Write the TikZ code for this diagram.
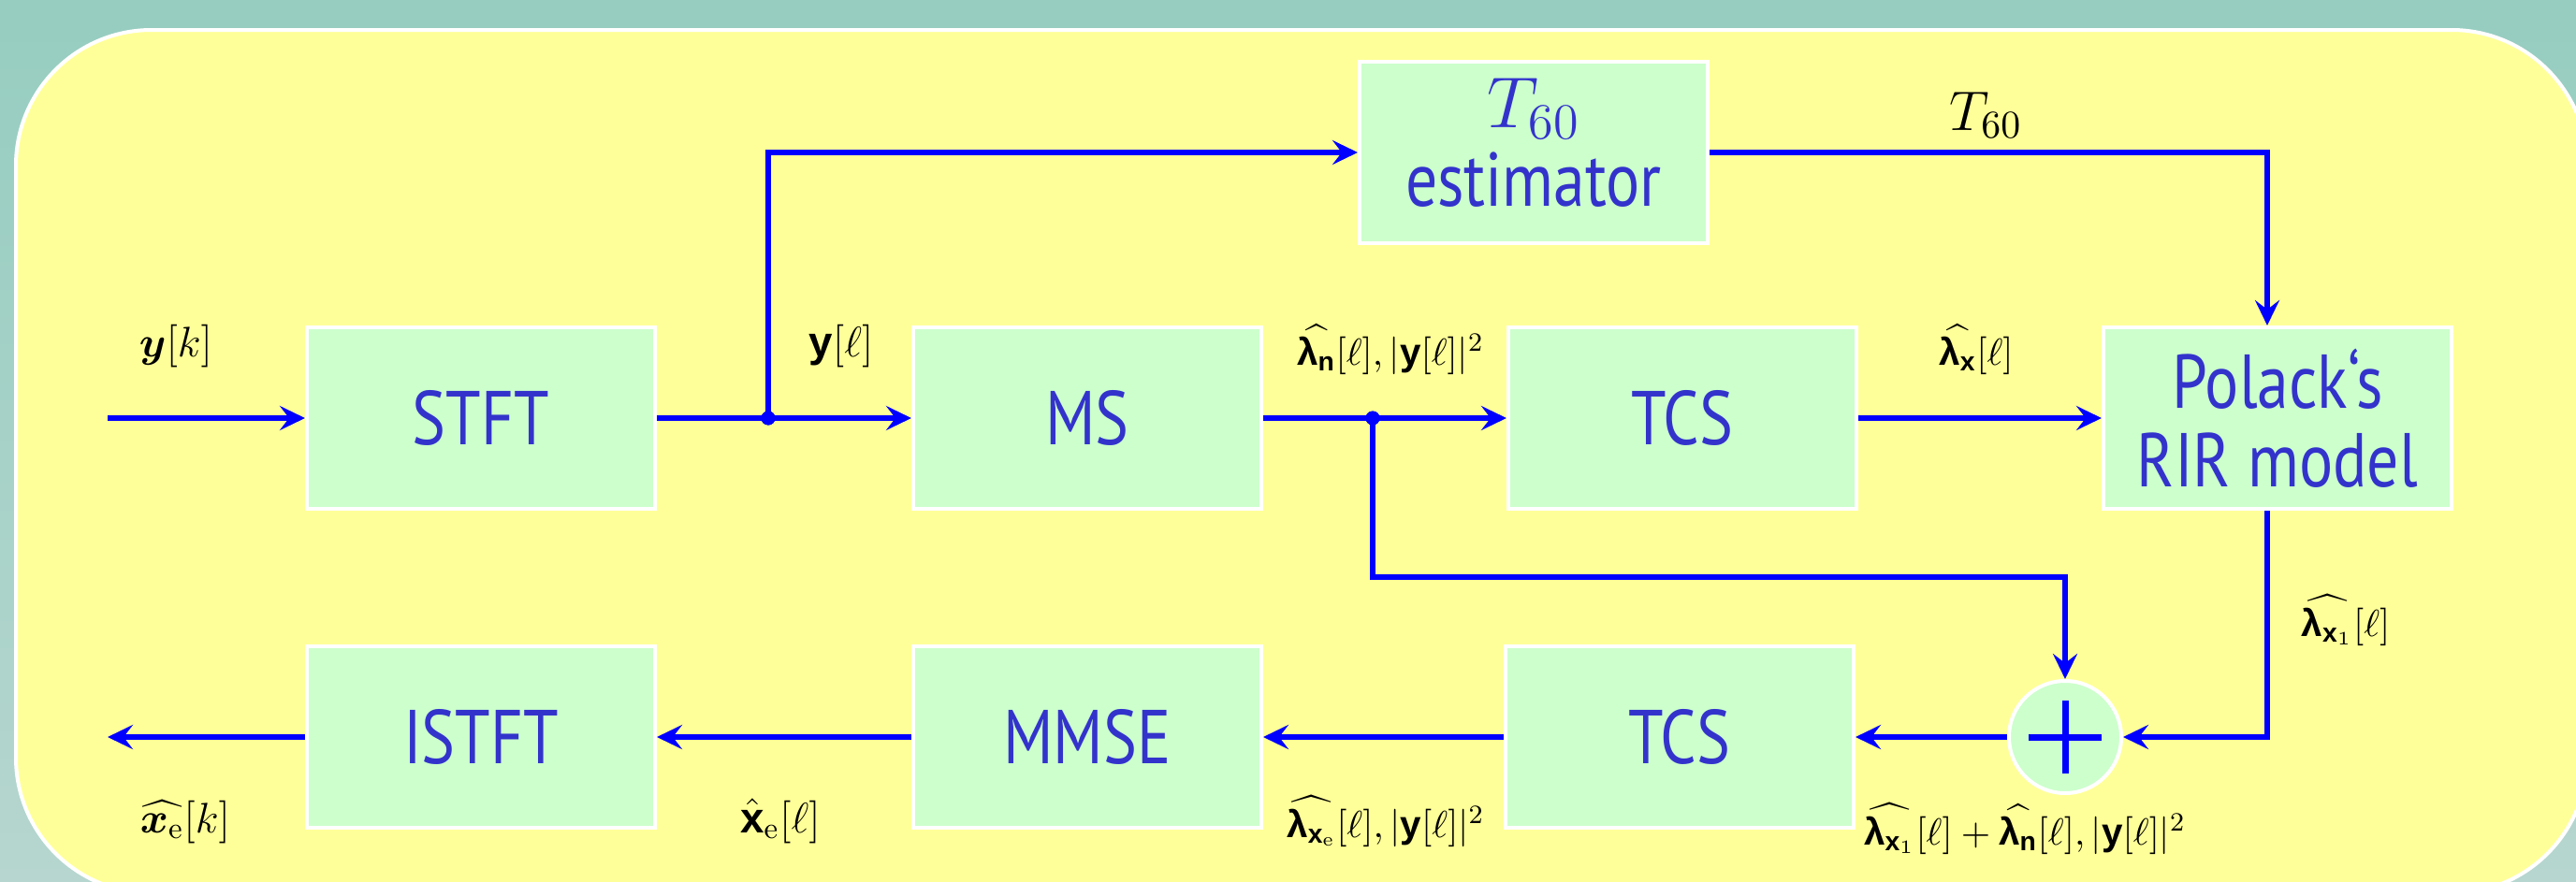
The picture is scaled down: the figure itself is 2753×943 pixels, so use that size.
\RequirePackage{fix-cm}
\documentclass[tikz,border=0pt]{standalone}
\usepackage{amsmath}
\usepackage{fontspec}
\newfontfamily\blockfont{PT Sans}[FakeStretch=0.83]
\newfontfamily\boldsans{Liberation Sans}
\usetikzlibrary{arrows.meta,calc}

\definecolor{bgtop}{RGB}{150,205,192}
\definecolor{bgbot}{RGB}{182,214,207}
\definecolor{panel}{RGB}{255,255,153}
\definecolor{boxfill}{RGB}{204,255,204}
\definecolor{wire}{RGB}{0,0,255}
\definecolor{blocktext}{RGB}{51,51,204}

% bold upright sans letters used in the signal names
\newcommand\bsf[1]{\text{\boldsans\bfseries #1}}

\begin{document}
\begin{tikzpicture}[x=0.1mm,y=-0.1mm,
  block/.style={draw=white, line width=0.4mm, fill=boxfill,
    minimum width=37.2mm, minimum height=19.4mm, inner sep=0pt,
    text=blocktext, align=center,
    font=\blockfont\fontsize{23.2}{23.8}\selectfont},
  sumnode/.style={circle, draw=white, line width=0.4mm, fill=boxfill,
    minimum size=12mm, inner sep=0pt,
    path picture={
      \draw[draw=wire, line width=0.7mm]
        ([xshift=-3.9mm]path picture bounding box.center) --
        ([xshift=3.9mm]path picture bounding box.center)
        ([yshift=-3.9mm]path picture bounding box.center) --
        ([yshift=3.9mm]path picture bounding box.center);}},
  wire/.style={draw=wire, line width=0.55mm},
  arr/.style={wire, -{Stealth[length=2.7mm,width=2.6mm,inset=1mm]}},
  lab/.style={anchor=base, inner sep=0pt, font=\fontsize{13}{15}\selectfont},
  slab/.style={anchor=base, inner sep=0pt, font=\fontsize{11.5}{13}\selectfont},
  dot/.style={circle, fill=wire, inner sep=0pt, minimum size=1.5mm},
]
\useasboundingbox (0,0) rectangle (2753,943);
\clip (0,0) rectangle (2753,943);

% slide background and panel
\shade[top color=bgtop, bottom color=bgbot] (0,0) rectangle (2753,943);
\draw[draw=white, line width=0.4mm, fill=panel, rounded corners=14.5mm]
  (17,32) rectangle (2765,955);

% processing blocks
\node[block, text depth=2.2mm] (t60) at (1639,163)
  {{\fontsize{22}{23.8}\selectfont$T_{60}$}\\estimator};
\node[block] (stft)  at (514,447)  {STFT};
\node[block] (ms)    at (1162,447) {MS};
\node[block] (tcsa)  at (1798,447) {TCS};
\node[block] (rir)   at (2434,447) {Polack‘s\\RIR model};
\node[block] (istft) at (514,788)  {ISTFT};
\node[block] (mmse)  at (1162,788) {MMSE};
\node[block] (tcsb)  at (1795,788) {TCS};
\node[sumnode] (sum) at (2207,788) {};

% free ends and bends
\coordinate (in)      at (115,447);
\coordinate (out)     at (115,788);
\coordinate (up)      at (821,163);
\coordinate (tcorner) at (2423,163);
\coordinate (rbot)    at (2423,788);
\coordinate (fb1)     at (1467,617);
\coordinate (fb2)     at (2207,617);
\node[dot] (j1) at (821,447) {};
\node[dot] (j2) at (1467,447) {};

% forward path
\draw[arr] (in) -- (stft.west);
\draw[wire] (stft.east) -- (j1.center);
\draw[arr] (j1.center) -- (ms.west);
\draw[arr] (j1.center) -- (up) -- (t60.west);
\draw[wire] (ms.east) -- (j2.center);
\draw[arr] (j2.center) -- (tcsa.west);
\draw[arr] (tcsa.east) -- (rir.west);
\draw[arr] (t60.east) -- (tcorner) -- (tcorner |- rir.north);
\draw[arr] (rir.south -| tcorner) -- (rbot) -- (sum.east);
\draw[arr] (j2.center) -- (fb1) -- (fb2) -- (sum.north);
% return path
\draw[arr] (sum.west) -- (tcsb.east);
\draw[arr] (tcsb.west) -- (mmse.east);
\draw[arr] (mmse.west) -- (istft.east);
\draw[arr] (istft.west) -- (out);
\node[dot] at (j1) {};
\node[dot] at (j2) {};

% signal labels
\node[lab] (lyk) at (188,381) {$\boldsymbol{y}[k]$};
\node[lab] (lyl) at (899,381) {$\bsf{y}[\ell]$};
\node[slab] (lln) at (1486,390) {$\widehat{\bsf{λ}_{\bsf{n}}}[\ell], |\bsf{y}[\ell]|^2$};
\node[slab] (llx) at (2112,390) {$\widehat{\bsf{λ}_{\bsf{x}}}[\ell]$};
\node[lab, font=\fontsize{17}{19}\selectfont] (lt60) at (2122,139) {$T_{60}$};
\node[slab] (llxa) at (2507,680) {$\widehat{\bsf{λ}_{\bsf{x}_1}}[\ell]$};
\node[slab] (llxe) at (1481,895) {$\widehat{\bsf{λ}_{\bsf{x}_\mathrm{e}}}[\ell], |\bsf{y}[\ell]|^2$};
\node[slab] (lsum) at (2164,903) {$\widehat{\bsf{λ}_{\bsf{x}_1}}[\ell] + \widehat{\bsf{λ}_{\bsf{n}}}[\ell], |\bsf{y}[\ell]|^2$};
\node[lab] (lxel) at (834,890) {$\hat{\bsf{x}}_\mathrm{e}[\ell]$};
\node[lab] (lxek) at (198,890) {$\widehat{\boldsymbol{x}_\mathrm{e}}[k]$};
\end{tikzpicture}
\end{document}
